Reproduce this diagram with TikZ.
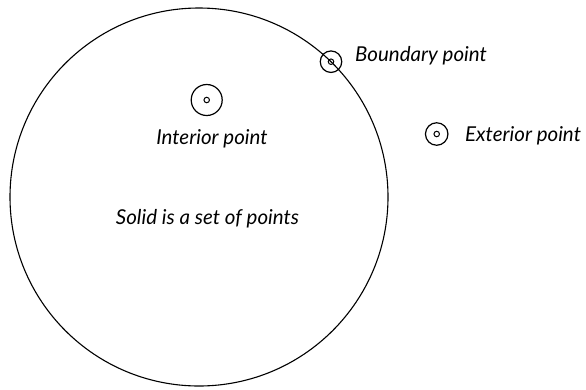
\documentclass[tikz,border=0pt]{standalone}
\usepackage{fontspec}
\setmainfont{Lato}
\begin{document}
\begin{tikzpicture}[x=1pt,y=-1pt,
  lbl/.style={font=\itshape\fontsize{20.5}{24}\selectfont, inner sep=0pt},
  ring/.style={circle, draw, line width=1.2pt, inner sep=0pt},
  dotc/.style={circle, draw, line width=1pt, inner sep=0pt, minimum size=5.5pt},
  solidc/.style={circle, draw, line width=1.1pt, inner sep=0pt, minimum size=378pt}]
\useasboundingbox (0,0) rectangle (586,389);
\node[solidc] (solid) at (199,197) {};
\node[ring, minimum size=31pt] (int) at (206.7,100) {};
\node[dotc] (intdot) at (int.center) {};
\node[ring, minimum size=21.5pt] (bnd) at (331,61.7) {};
\node[dotc] (bnddot) at (bnd.center) {};
\node[ring, minimum size=22.5pt] (ext) at (436.7,134) {};
\node[dotc] (extdot) at (ext.center) {};
\node[lbl, anchor=base] (intlbl) at (212,144) {Interior point};
\node[lbl, anchor=base west] (bndlbl) at (355,61) {Boundary point};
\node[lbl, anchor=base west] (extlbl) at (465,141.7) {Exterior point};
\node[lbl, anchor=base] (solidlbl) at (207.5,224) {Solid is a set of points};
\end{tikzpicture}
\end{document}
